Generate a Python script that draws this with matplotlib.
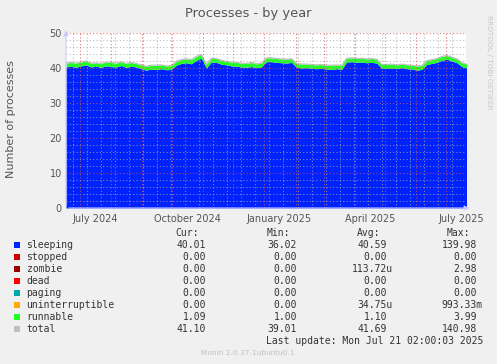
import numpy as np
import matplotlib
matplotlib.use("Agg")
import matplotlib.pyplot as plt
from matplotlib.patches import Rectangle
from datetime import datetime, timedelta

W, H = 497, 364

# samples every 5 days starting 2024-06-17
start = datetime(2024, 6, 17)
step_days = 5
sleeping = [40.3, 40.5, 40.2, 40.6, 40.9, 40.3, 40.5, 40.2, 40.6, 40.4,
            40.3, 40.7, 40.2, 40.5, 40.3, 39.8, 39.4, 39.7, 39.6, 39.8,
            39.5, 39.6, 40.8, 41.3, 41.5, 41.2, 42.2, 42.8, 40.0, 41.7,
            41.6, 41.1, 40.9, 40.6, 40.5, 40.3, 40.2, 40.4, 40.1, 40.3,
            41.8, 41.8, 41.6, 41.5, 41.4, 41.6, 40.2, 40.0, 40.1, 39.9,
            39.8, 39.9, 39.7, 39.6, 39.8, 39.6, 41.7, 41.8, 41.6, 41.7,
            41.5, 41.6, 41.4, 39.9, 39.9, 40.0, 39.8, 40.1, 39.8, 39.7,
            39.4, 39.6, 41.0, 41.3, 41.6, 42.2, 42.5, 42.0, 41.5, 40.4,
            40.0]
runnable = [1.1, 1.1, 1.2, 1.1, 1.1, 1.1, 1.0, 1.1, 1.1, 1.2,
            1.1, 1.1, 1.1, 1.1, 1.0, 1.1, 1.1, 1.1, 1.2, 1.1,
            1.1, 1.1, 1.1, 1.1, 1.1, 1.2, 1.1, 1.1, 1.1, 1.1,
            1.1, 1.1, 1.0, 1.1, 1.1, 1.1, 1.1, 1.2, 1.1, 1.1,
            1.1, 1.1, 1.1, 1.1, 1.1, 1.1, 1.1, 1.1, 1.0, 1.1,
            1.1, 1.1, 1.1, 1.2, 1.1, 1.1, 1.1, 1.1, 1.1, 1.1,
            1.1, 1.1, 1.1, 1.1, 1.1, 1.1, 1.1, 1.0, 1.1, 1.1,
            1.2, 1.1, 1.1, 1.1, 1.1, 1.1, 1.1, 1.1, 1.1, 1.1,
            1.09]

series = ["sleeping", "stopped", "zombie", "dead", "paging",
          "uninterruptible", "runnable", "total"]
colors = ["#0022ff", "#cc0000", "#990000", "#ff0000", "#00aaaa",
          "#ffaa00", "#22ff22", "#c0c0c0"]
cur = ["40.01", "0.00", "0.00", "0.00", "0.00", "0.00", "1.09", "41.10"]
vmin = ["36.02", "0.00", "0.00", "0.00", "0.00", "0.00", "1.00", "39.01"]
avg = ["40.59", "0.00", "113.72u", "0.00", "0.00", "34.75u", "1.10", "41.69"]
vmax = ["139.98", "0.00", "2.98", "0.00", "0.00", "993.33m", "3.99", "140.98"]

month_labels = ["July 2024", "October 2024", "January 2025", "April 2025", "July 2025"]
label_dates = [datetime(2024, 7, 16), datetime(2024, 10, 16), datetime(2025, 1, 16),
               datetime(2025, 4, 16), datetime(2025, 7, 16)]

dates = [start + timedelta(days=step_days * i) for i in range(len(sleeping))]
sl = np.array(sleeping)
rn = np.array(runnable)
total = sl + rn

fig = plt.figure(figsize=(W / 100, H / 100), dpi=100, facecolor="#f0f0f0")
ax = fig.add_axes([66 / W, 1 - 208 / H, 400 / W, 175 / H])
ax.set_facecolor("white")

ax.fill_between(dates, 0, sl, color=colors[0], lw=0, zorder=2)
ax.fill_between(dates, sl, total, color=colors[6], lw=0, zorder=2)
ax.plot(dates, total, color=colors[7], lw=0.9, zorder=2)

ax.set_xlim(datetime(2024, 6, 17), datetime(2025, 7, 21, 2))
ax.set_ylim(0, 50)

# grid: minor grey, major red, drawn over the areas like rrdtool
minor = dict(color="#a8a8a8", lw=0.8, ls=(0, (1, 2)), alpha=0.75, zorder=3)
major = dict(color="#e05050", lw=0.8, ls=(0, (1, 2)), alpha=0.75, zorder=3)
for y in range(0, 51, 2):
    if y % 10:
        ax.axhline(y, **minor)
for y in range(10, 51, 10):
    ax.axhline(y, **major)
d = datetime(2024, 6, 24)
while d < datetime(2025, 7, 22):
    ax.axvline(d, **minor)
    d += timedelta(days=14)
months = [datetime(2024 + (6 + m) // 12, (6 + m) % 12 + 1, 1) for m in range(13)]
for m in months:
    ax.axvline(m, **major)

ax.set_xticks(label_dates)
ax.set_xticklabels(month_labels)
ax.set_yticks(range(0, 51, 10))
ax.tick_params(axis="both", length=0, labelsize=7, colors="#555555", pad=3)
ax.tick_params(axis="x", pad=4)
for s in ax.spines.values():
    s.set_visible(False)

# axis arrows
ax.annotate("", xy=(0, 1.03), xytext=(0, 0), xycoords="axes fraction",
            arrowprops=dict(arrowstyle="-|>", color="#c8c8ff", lw=0.8,
                            mutation_scale=7), annotation_clip=False)
ax.annotate("", xy=(1.015, 0), xytext=(0, 0), xycoords="axes fraction",
            arrowprops=dict(arrowstyle="-|>", color="#c8c8ff", lw=0.8,
                            mutation_scale=7), annotation_clip=False)

fig.text(248 / W, 1 - 14 / H, "Processes - by year", ha="center", va="center",
         fontsize=9.4, color="#555555")
fig.text(11 / W, 1 - 119 / H, "Number of processes", rotation=90, ha="center",
         va="center", fontsize=8, color="#555555")
fig.text(489 / W, 1 - 15 / H, "RRDTOOL / TOBI OETIKER", rotation=270, ha="center",
         va="top", fontsize=5.3, color="#c8c8c8")

mono = "DejaVu Sans Mono"
fs = 7
tc = "#333333"
hy = 233
for txt, xr in [("Cur:", 199), ("Min:", 290), ("Avg:", 380), ("Max:", 470)]:
    fig.text(xr / W, 1 - hy / H, txt, ha="right", va="center",
             family=mono, fontsize=fs, color=tc)

ch = 5.85
for i, name in enumerate(series):
    y = 244.7 + 12 * i
    fig.add_artist(Rectangle((14 / W, 1 - (y + 3) / H), 6 / W, 6 / H,
                             transform=fig.transFigure, color=colors[i], lw=0))
    fig.text(26.5 / W, 1 - y / H, name, ha="left", va="center",
             family=mono, fontsize=fs, color=tc)
    for vals, xr in [(cur, 206), (vmin, 297), (avg, 387), (vmax, 477)]:
        v = vals[i]
        x = xr + (ch if v[-1] in "um" else 0)
        fig.text(x / W, 1 - y / H, v, ha="right", va="center",
                 family=mono, fontsize=fs, color=tc)

fig.text(483 / W, 1 - 340.5 / H, "Last update: Mon Jul 21 02:00:03 2025",
         ha="right", va="center", family=mono, fontsize=fs, color=tc)
fig.text(248 / W, 1 - 353 / H, "Munin 2.0.37-1ubuntu0.1", ha="center",
         va="center", fontsize=5.3, color="#c0c0c0")

fig.savefig("out.png", dpi=100, facecolor=fig.get_facecolor())
